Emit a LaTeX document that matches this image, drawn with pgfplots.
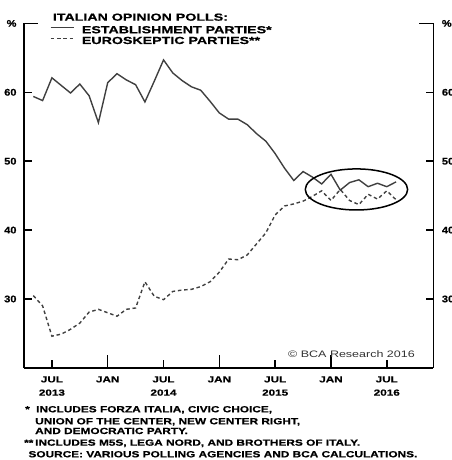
\documentclass[border=0pt]{standalone}
\usepackage{fontspec}
\setmainfont{Liberation Sans}
\newfontfamily\widefont{Liberation Sans}[FakeStretch=1.33]
\newfontfamily\heavyfont{Liberation Sans Bold}[FakeStretch=1.33, FakeBold=0.6]
\newfontfamily\titlefont{Liberation Sans Bold}[FakeStretch=1.38, FakeBold=0.6]
\newfontfamily\numfont{Liberation Sans Bold}[FakeStretch=1.15, FakeBold=0.6]
\usepackage{pgfplots}
\pgfplotsset{compat=1.18}

% Monthly poll shares, x = months since Jan 2013 (Jan 2013 = 0)
\pgfplotstableread{
m  est   euro
4  59.4  30.5
5  58.8  29.0
6  62.1  24.6
7  61.0  24.9
8  59.9  25.6
9  61.2  26.5
10 59.5  28.1
11 55.6  28.5
12 61.4  28.0
13 62.7  27.5
14 61.8  28.5
15 61.1  28.7
16 58.6  32.5
17 61.6  30.4
18 64.7  29.9
19 62.8  31.1
20 61.7  31.3
21 60.8  31.4
22 60.3  31.8
23 58.7  32.5
24 57.0  33.9
25 56.1  35.8
26 56.1  35.7
27 55.3  36.4
28 54.0  38.0
29 52.9  39.6
30 51.1  42.2
31 49.0  43.5
32 47.2  43.8
33 48.5  44.2
34 47.7  44.9
35 46.7  45.7
36 48.1  44.3
37 45.8  45.9
38 46.9  44.3
39 47.3  43.7
40 46.3  45.2
41 46.8  44.5
42 46.3  45.7
43 47.0  44.4
}\polls

\definecolor{linegray}{HTML}{404040}

\pgfplotsset{
  pollframe/.style={
    scale only axis,
    width=409.3bp, height=344.5bp,
    at={(0,0)}, anchor=south west,
    xmin=3, xmax=47, ymin=20, ymax=70,
    tick align=inside,
    axis line style={line width=1.5bp, black},
    every tick/.style={line width=1.5bp, black},
  },
  pollyaxis/.style={
    pollframe,
    axis x line=none,
    ytick={30,40,50,60},
    yticklabels={30,40,50,60},
    major tick length=7.5bp,
    extra y ticks={70},
    extra y tick labels={\%},
    extra y tick style={major tick length=14bp},
    yticklabel style={font=\numfont\fontsize{9.6bp}{11bp}\selectfont, inner sep=0pt},
  },
}

\begin{document}
\begin{tikzpicture}
\useasboundingbox (-24bp,-92.1bp) rectangle (428bp,367.9bp);
\clip (-24bp,-92.1bp) rectangle (428bp,367.9bp);

% time axis and the two series
\begin{axis}[
  pollframe,
  axis x line*=bottom,
  axis y line=none,
  xtick={12,24,36},
  xticklabels={JAN,JAN,JAN},
  major tick length=13.3bp,
  xticklabel style={font=\heavyfont\fontsize{8.8bp}{13.3bp}\selectfont, align=center, inner sep=0pt, yshift=-8.2bp},
  extra x ticks={6,18,30,42},
  extra x tick labels={{JUL\\2013},{JUL\\2014},{JUL\\2015},{JUL\\2016}},
  extra x tick style={major tick length=8bp},
]
  \addplot[linegray, line width=1.4bp] table[x=m, y=est] {\polls};
  \addplot[linegray, line width=1.4bp, dash pattern=on 3.5bp off 2.8bp] table[x=m, y=euro] {\polls};
  % highlight of the recent convergence
  \draw[black, line width=1.5bp] (axis cs:38.74,45.9) ellipse [x radius=5.5, y radius=2.98];
\end{axis}

% left percentage scale
\begin{axis}[
  pollyaxis,
  axis y line*=left,
  yticklabel style={xshift=-7.3bp},
]
\end{axis}

% right percentage scale (its labels run past the page edge)
\begin{axis}[
  pollyaxis,
  axis y line*=right,
  yticklabel pos=right,
  yticklabel style={xshift=8.4bp},
]
\end{axis}

% legend
\node[anchor=base west, inner sep=0pt, font=\titlefont\fontsize{10.3bp}{12bp}\selectfont] at (28.7bp,347.2bp) {ITALIAN OPINION POLLS:};
\draw[linegray, line width=1.4bp] (26.7bp,340.3bp) -- (50bp,340.3bp);
\node[anchor=base west, inner sep=0pt, font=\titlefont\fontsize{10.3bp}{12bp}\selectfont] at (57.7bp,334.6bp) {ESTABLISHMENT PARTIES*};
\draw[linegray, line width=1.4bp, dash pattern=on 3.5bp off 2.8bp] (26.7bp,329.6bp) -- (51bp,329.6bp);
\node[anchor=base west, inner sep=0pt, font=\titlefont\fontsize{10.3bp}{12bp}\selectfont] at (57.7bp,323.9bp) {EUROSKEPTIC PARTIES**};

% copyright
\node[anchor=base east, inner sep=0pt, text=black!80, font=\widefont\fontsize{9.4bp}{11bp}\selectfont] at (391bp,10.6bp) {© BCA Research 2016};

% footnotes
\begin{scope}[every node/.style={anchor=base west, inner sep=0pt, font=\heavyfont\fontsize{8.9bp}{11bp}\selectfont}]
\node at (1bp,-44.4bp) {*};
\node at (12bp,-44.4bp) {INCLUDES FORZA ITALIA, CIVIC CHOICE,};
\node at (11bp,-56.4bp) {UNION OF THE CENTER, NEW CENTER RIGHT,};
\node at (11bp,-66.1bp) {AND DEMOCRATIC PARTY.};
\node at (0bp,-77.8bp) {**};
\node at (11bp,-77.8bp) {INCLUDES M5S, LEGA NORD, AND BROTHERS OF ITALY.};
\node at (4.3bp,-89.4bp) {SOURCE: VARIOUS POLLING AGENCIES AND BCA CALCULATIONS.};
\end{scope}
\end{tikzpicture}
\end{document}
